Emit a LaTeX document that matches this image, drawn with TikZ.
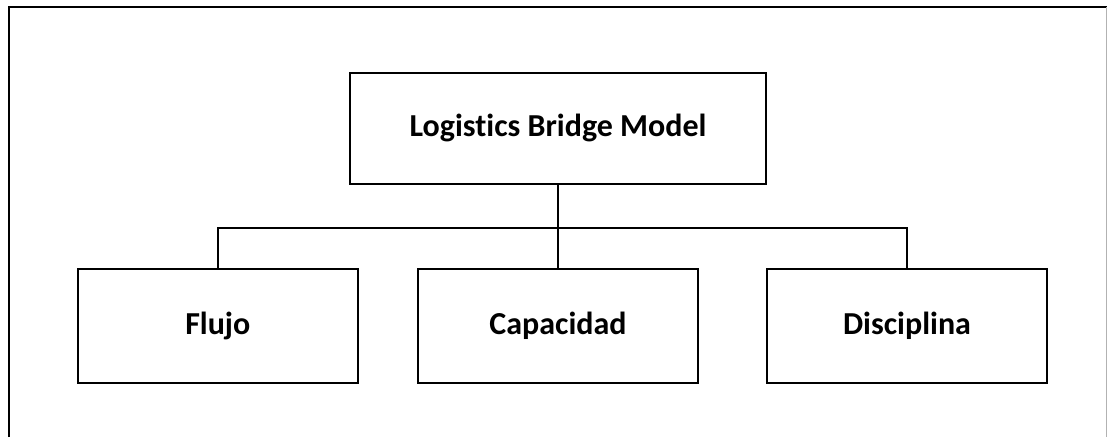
\documentclass[tikz,border=0pt]{standalone}
\usepackage{fontspec}
\setmainfont{Carlito}[Ligatures=NoCommon]
\begin{document}
\begin{tikzpicture}[x=1pt,y=-1pt,
  box/.style={draw, line width=2pt, inner sep=0pt,
    font=\bfseries\fontsize{32}{38}\selectfont},
  link/.style={line width=1.6pt}]
\useasboundingbox (0,0) rectangle (1107,437);
\fill[white] (0,0) rectangle (1107,437);
% open frame around the chart
\draw[line width=2pt] (9,437) -- (9,7) -- (1106.5,7);
\draw[black!30, line width=1pt] (1106.5,7) -- (1106.5,437);
% boxes
\node[box, minimum width=416.5pt, minimum height=111.5pt] (top) at (558,128.3) {Logistics Bridge Model};
\node[box, minimum width=280pt, minimum height=114pt] (flujo) at (217.8,326) {Flujo};
\node[box, minimum width=279.3pt, minimum height=114pt] (cap) at (558,326) {Capacidad};
\node[box, minimum width=279.7pt, minimum height=114pt] (disc) at (907,326) {Disciplina};
% connectors
\coordinate (bus) at (558,227.7);
\draw[link] (top.south) -- (cap.north);
\draw[link] (flujo.north) |- (bus) -| (disc.north);
\end{tikzpicture}
\end{document}
